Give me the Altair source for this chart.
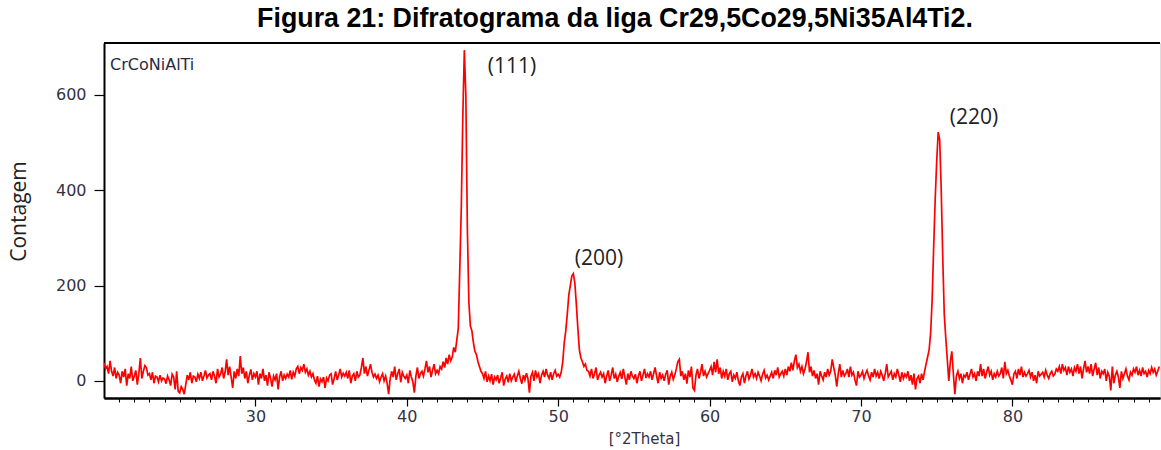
import altair as alt
import pandas as pd

TITLE = "Figura 21: Difratograma da liga Cr29,5Co29,5Ni35Al4Ti2."
SAMPLE = "CrCoNiAlTi"
X_TITLE = "[°2Theta]"
Y_TITLE = "Contagem"

# 2theta grid starts at 20.0 with 0.1 degree step; one row per degree
start_2theta = 20.0
step_2theta = 0.1
counts = [
    38, 25, 30, 15, 42, 20, 10, 28, 5, 18,        # 20
    12, -5, 20, 8, 25, -10, 15, 5, 30, 0,         # 21
    10, 22, -8, 15, 48, 5, 20, 32, 28, 12,        # 22
    15, 2, 18, -5, 10, 8, -2, 12, 0, 6,           # 23
    4, -6, 10, 2, -10, 14, 8, -18, 20, -22,       # 24
    -25, -12, -18, -28, -8, 12, 2, 18, -5, 10,    # 25
    8, -2, 14, 5, 18, 0, 10, 22, 6, 12,           # 26
    15, 2, 20, 10, -5, 25, 8, 14, 28, 5,          # 27
    18, 45, 12, 30, 8, -15, 20, 5, 25, 10,        # 28
    52, 15, 28, 5, 20, -5, 12, 24, 2, 15,         # 29
    8, 20, -8, 15, 5, 25, 0, 12, -10, 18,         # 30
    5, -12, 10, 2, 15, -18, 8, 20, 0, 12,         # 31
    5, 14, 8, 22, 3, 18, 10, 25, 30, 15,          # 32
    28, 22, 35, 18, 25, 12, 20, 8, 15, 2,         # 33
    -5, 10, -12, 4, -2, 8, -15, 6, 0, 12,         # 34
    15, -8, 5, 20, 2, 12, 25, 8, 16, 10,          # 35
    18, 5, 22, -5, 10, 15, 0, 20, 8, 12,          # 36
    28, 48, 15, 30, 10, 22, 35, 18, 8, 14,        # 37
    5, 12, -2, 8, 15, 0, 10, -5, -28, 4,          # 38
    20, 8, 30, 2, 15, 25, -3, 18, 10, 5,          # 39
    12, -5, 22, 8, -2, -25, 10, 28, 5, 15,        # 40
    20, 10, 25, 42, 18, 30, 8, 22, 35, 15,        # 41
    22, 15, 30, 25, 40, 28, 48, 35, 55, 42,       # 42
    50, 70, 60, 85, 110, 235, 365, 555, 694, 600, # 43
    320, 165, 115, 105, 80, 62, 55, 40, 30, 20,   # 44
    15, 5, 20, -2, 10, 0, 14, -8, 8, 2,           # 45
    12, -5, 6, 18, -10, 4, 10, -3, 15, 0,         # 46
    8, 14, -2, 10, 20, 5, -6, 12, 2, 16,          # 47
    5, -25, 10, 18, 0, 22, 8, 15, -5, 12,         # 48
    20, 8, 25, 12, 5, 18, 2, 15, 22, 10,          # 49
    14, 8, 18, 40, 80, 105, 140, 180, 200, 220,   # 50
    225, 205, 160, 110, 65, 48, 40, 30, 35, 22,   # 51
    20, 10, 25, 5, 15, 28, 2, 12, 18, 8,          # 52
    15, -5, 10, 22, 0, 12, 28, 5, 14, -2,         # 53
    10, 18, 4, 25, 8, -8, 15, 2, 20, 10,          # 54
    5, 14, -5, 10, 20, 0, 12, 25, 6, 15,          # 55
    8, 20, 2, 15, 28, 10, -5, 18, 5, 12,          # 56
    0, 14, 22, -8, 10, 18, 3, 12, 25, 40,         # 57
    45, 10, 20, 2, 15, -6, 22, 8, 30, -15,        # 58
    -20, 12, 25, 5, 18, 35, 10, 20, 8, 15,        # 59
    22, 30, 12, 40, 18, 45, 15, 28, 5, 20,        # 60
    10, 25, 2, 15, 20, -2, 12, 5, 18, 0,          # 61
    -10, 8, 15, -5, 10, 20, 4, 12, 25, 8,         # 62
    15, 5, 18, 10, 0, 14, 22, 6, 12, 2,           # 63
    10, 18, 5, 22, 12, 28, 8, 15, 20, 10,         # 64
    25, 12, 30, 20, 38, 22, 42, 55, 28, 35,       # 65
    20, 30, 15, 25, 40, 60, 18, 30, 10, 22,       # 66
    5, 15, -8, 20, 10, 2, 18, 8, 25, 12,          # 67
    20, 45, 28, 12, -12, 15, 35, 8, 22, 10,       # 68
    15, 25, 8, 30, 12, 18, 2, -10, 20, 8,         # 69
    12, 20, 5, 15, 22, 10, 2, 18, 8, 25,          # 70
    10, 18, 5, 20, 12, 0, 15, 35, 8, 14,          # 71
    20, 2, 15, 8, 25, 12, -2, 18, 5, 14,          # 72
    8, 20, 0, 12, -8, 15, -18, 5, 10, -5,         # 73
    15, 2, 20, 35, 50, 65, 100, 170, 280, 380,    # 74
    460, 522, 505, 400, 260, 140, 90, 45, 0, 40,  # 75
    62, 15, -28, 10, 20, 5, 15, -5, 12, 8,        # 76
    18, 2, 14, 25, 8, 15, 0, 20, 10, 35,          # 77
    10, 25, 5, 18, 30, 12, 20, 2, 15, 8,          # 78
    20, 10, 15, 28, 5, 40, 15, 22, 10, 2,         # 79
    -8, 15, 20, 5, 25, 12, 30, 8, 18, 10,         # 80
    15, 22, 8, 18, 0, 12, -5, 20, 10, 14,         # 81
    18, 8, 22, 12, 5, 15, 20, 10, 14, 25,         # 82
    20, 30, 15, 35, 22, 28, 12, 30, 18, 25,       # 83
    10, 28, 20, 35, 15, 30, 5, 25, 42, 18,        # 84
    30, 15, 35, 10, 25, 38, 12, 28, 5, 20,        # 85
    15, 25, 0, 18, 10, -20, 30, -5, 12, 20,       # 86
    8, -15, 20, 5, 15, 25, 10, 2, 18, 12,         # 87
    25, 18, 30, 12, 22, 10, 28, 15, 20, 8,        # 88
    22, 15, 28, 18, 25, 12, 20, 30,               # 89
]

peak_labels = ["(111)", "(200)", "(220)"]
peak_label_x = [46.95, 52.7, 77.46]
peak_label_y = [659, 256, 552]

sample_x = [20.4]
sample_y = [680]

x_domain = [20.0, 89.75]
y_domain = [-36, 709]
y_ticks = [0, 200, 400, 600]
x_minor_ticks = list(range(21, 90))
x_major_ticks = [30, 40, 50, 60, 70, 80]

two_theta = [round(start_2theta + step_2theta * i, 2) for i in range(len(counts))]
df = pd.DataFrame({"two_theta": two_theta, "counts": counts})
lab_df = pd.DataFrame({"x": peak_label_x, "y": peak_label_y, "t": peak_labels})
samp_df = pd.DataFrame({"x": sample_x, "y": sample_y, "t": [SAMPLE]})

x_scale = alt.Scale(domain=x_domain, nice=False, zero=False)
y_scale = alt.Scale(domain=y_domain, nice=False, zero=False)

y_axis = alt.Axis(values=y_ticks, tickSize=10, labelPadding=8,
                  labelFont="DejaVu Sans", labelFontSize=16, labelColor="#333344",
                  titleFont="Open Sans", titleFontSize=21, titleFontWeight="normal",
                  titleColor="#222222", titleX=-85, titleY=168, titleAngle=-90,
                  titleBaseline="middle", titleAlign="center",
                  domainColor="black", domainWidth=2, tickColor="black",
                  tickWidth=1.2, grid=False)


def y_enc(field):
    return alt.Y(field, scale=y_scale, title=Y_TITLE, axis=y_axis)


# curve, with the minor x ticks (no labels) on an axis of its own
curve = alt.Chart(df).mark_line(color="#ff0000", strokeWidth=1.7, clip=True).encode(
    x=alt.X("two_theta:Q", scale=x_scale,
            axis=alt.Axis(values=x_minor_ticks, labels=False, title=None, tickSize=4,
                          domainColor="black", domainWidth=2, tickColor="black",
                          tickWidth=1, grid=False, orient="bottom")),
    y=y_enc("counts:Q"),
)

# major ticks with labels and title
major = alt.Chart(samp_df).mark_point(opacity=0).encode(
    x=alt.X("x:Q", scale=x_scale, title=X_TITLE,
            axis=alt.Axis(values=x_major_ticks, tickSize=8, labelOverlap=False,
                          labelFont="DejaVu Sans", labelFontSize=16, labelColor="#333344",
                          labelPadding=2, labelFlush=False,
                          titleFont="DejaVu Sans", titleFontSize=15, titleFontWeight="normal",
                          titleColor="#333344", titleX=540, titlePadding=7,
                          domainColor="black", domainWidth=2, tickColor="black",
                          tickWidth=1.2, grid=False, orient="bottom")),
    y=y_enc("y:Q"),
)

labels = alt.Chart(lab_df).mark_text(font="Open Sans", fontSize=21, color="#222222",
                                     align="center", baseline="middle").encode(
    x=alt.X("x:Q", scale=x_scale, axis=None), y=y_enc("y:Q"), text="t:N")

sample = alt.Chart(samp_df).mark_text(font="DejaVu Sans", fontSize=16, color="#2b2b40",
                                      align="left", baseline="top").encode(
    x=alt.X("x:Q", scale=x_scale, axis=None), y=y_enc("y:Q"), text="t:N")

top_rule = alt.Chart(samp_df).mark_rule(color="black", strokeWidth=2).encode(y=alt.value(0))

chart = alt.layer(curve, major, labels, sample, top_rule).resolve_axis(x="independent").properties(
    width=1056, height=355,
    autosize=alt.AutoSizeParams(type="none"),
    padding={"left": 104, "top": 43, "right": 1, "bottom": 52},
    title=alt.TitleParams(TITLE, font="Liberation Sans", fontSize=26.8, fontWeight="bold",
                          color="black", anchor="middle", offset=9, dx=-17),
).configure_view(stroke="#aaaaaa", strokeWidth=1).configure(background="white")

chart.save("out.html", embed_options={"renderer": "svg", "actions": False})
